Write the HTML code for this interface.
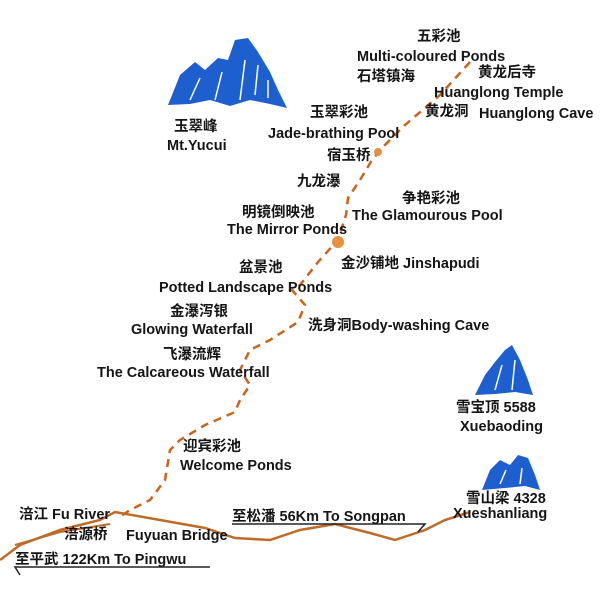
<!DOCTYPE html>
<html><head><meta charset="utf-8"><style>
body{margin:0;background:#fff}
svg text{font-family:"Liberation Sans","Noto Sans CJK SC",sans-serif;font-size:14.5px;font-weight:bold;fill:#151515}
</style></head><body>
<svg width="600" height="600" viewBox="0 0 600 600">
<g fill="#1e5fd0">
<path d="M168,105 L180,75 L195,62 L205,70 L218,58 L228,60 L235,40 L248,38 L258,52 L270,72 L278,90 L287,108 L270,104 L250,100 L230,106 L210,100 L190,104 Z"/>
<path d="M475,395 L485,375 L495,362 L505,350 L512,345 L520,360 L528,380 L533,395 L515,392 L495,394 Z"/>
<path d="M482,490 L490,470 L500,460 L510,465 L518,455 L528,458 L535,475 L540,490 L525,486 L505,488 Z"/>
</g>
<g stroke="#fff" stroke-width="1.5" fill="none">
<path d="M190,100 L200,78 M215,100 L222,72 M240,100 L245,60 M255,95 L258,65 M268,98 L268,80"/>
<path d="M495,390 L502,365 M512,390 L515,360"/>
<path d="M500,484 L506,470 M520,484 L522,468"/>
</g>
<path d="M470,62 L440,95 L405,125 L385,145 L372,160 L360,180 L348,198 L346,215 L338,240 L318,262 L300,285 L292,290 L305,305 L298,322 L270,340 L250,350 L240,370 L250,385 L240,400 L235,412 L205,425 L180,440 L170,450 L165,480 L150,500 L130,510 L118,518" fill="none" stroke="#c8641e" stroke-width="2.5" stroke-dasharray="8,6"/>
<circle cx="338" cy="242" r="6" fill="#e89040"/>
<circle cx="378" cy="152" r="4" fill="#e89040"/>
<path d="M0,560 L20,545 L60,530 L100,520 L115,512 L160,520 L205,528 L235,538 L270,540 L300,530 L335,524 L370,533 L395,540 L425,530 L445,520 L470,512" fill="none" stroke="#c06a28" stroke-width="2.5"/>
<path d="M15,545 L60,532 L110,524" fill="none" stroke="#c06a28" stroke-width="2"/>
<path d="M232,524 L425,524 L418,532" fill="none" stroke="#222" stroke-width="1.5"/>
<path d="M210,567 L15,567 L20,575" fill="none" stroke="#222" stroke-width="1.5"/>
<text x="417" y="41">五彩池</text>
<text x="357" y="61">Multi-coloured Ponds</text>
<text x="357" y="81">石塔镇海</text>
<text x="478" y="77">黄龙后寺</text>
<text x="434" y="97">Huanglong Temple</text>
<text x="425" y="116">黄龙洞</text>
<text x="479" y="118">Huanglong Cave</text>
<text x="310" y="117">玉翠彩池</text>
<text x="268" y="138">Jade-brathing Pool</text>
<text x="327" y="160">宿玉桥</text>
<text x="174" y="131">玉翠峰</text>
<text x="167" y="150">Mt.Yucui</text>
<text x="297" y="186">九龙瀑</text>
<text x="402" y="203">争艳彩池</text>
<text x="352" y="220">The Glamourous Pool</text>
<text x="242" y="217">明镜倒映池</text>
<text x="227" y="234">The Mirror Ponds</text>
<text x="341" y="268">金沙铺地 Jinshapudi</text>
<text x="239" y="272">盆景池</text>
<text x="159" y="292">Potted Landscape Ponds</text>
<text x="170" y="316">金瀑泻银</text>
<text x="131" y="334">Glowing Waterfall</text>
<text x="308" y="330">洗身洞Body-washing Cave</text>
<text x="163" y="359">飞瀑流辉</text>
<text x="97" y="377">The Calcareous Waterfall</text>
<text x="456" y="412">雪宝顶 5588</text>
<text x="460" y="431">Xuebaoding</text>
<text x="183" y="451">迎宾彩池</text>
<text x="180" y="470">Welcome Ponds</text>
<text x="466" y="503">雪山梁 4328</text>
<text x="453" y="518">Xueshanliang</text>
<text x="19" y="519">涪江 Fu River</text>
<text x="64" y="539">涪源桥</text>
<text x="126" y="540">Fuyuan Bridge</text>
<text x="232" y="521">至松潘 56Km To Songpan</text>
<text x="15" y="564">至平武 122Km To Pingwu</text>
</svg>
</body></html>
